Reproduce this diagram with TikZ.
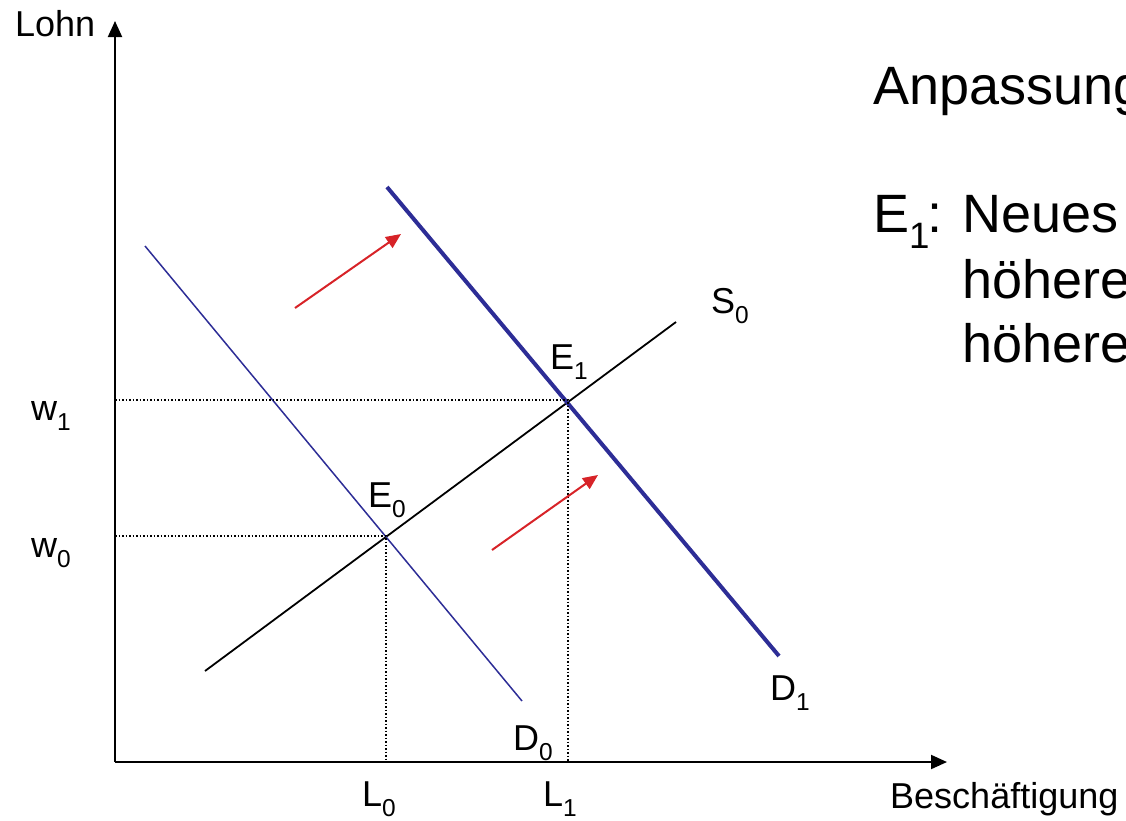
\documentclass[tikz,border=0pt]{standalone}
\usepackage{fontspec}
\setmainfont{Liberation Sans}
\usetikzlibrary{arrows.meta}
\definecolor{demandblue}{RGB}{45,45,150}
\definecolor{shiftred}{RGB}{215,35,40}
\newcommand{\lowidx}[1]{\raisebox{-0.3em}{\scalebox{0.68}{#1}}}
\begin{document}
\begin{tikzpicture}[x=1pt,y=-1pt,
  lbl/.style={font=\fontsize{36}{40}\selectfont, inner sep=0pt, anchor=base west},
  bigtxt/.style={font=\fontsize{54}{58}\selectfont, inner sep=0pt, anchor=base west},
  axis/.style={line width=2pt, -{Triangle[length=16pt,width=14pt]}},
  guide/.style={line width=1.5pt, dotted},
  shiftarrow/.style={shiftred, line width=2pt, -{Triangle[length=15pt,width=13pt]}}]
  \useasboundingbox (0,0) rectangle (1126,820);
  % Axes
  \coordinate (O) at (115,762);
  \coordinate (ytip) at (115,21);
  \coordinate (xtip) at (947,762);
  \draw[axis] (O) -- (ytip);
  \draw[axis] (O) -- (xtip);
  \node[lbl] (lohn) at (15,36) {Lohn};
  \node[lbl] (besch) at (890,808) {Beschäftigung};
  % Curves
  \coordinate (S0a) at (205,671);
  \coordinate (S0b) at (676,322);
  \coordinate (D0a) at (145,246);
  \coordinate (D0b) at (522,701);
  \coordinate (D1a) at (387,187);
  \coordinate (D1b) at (779,656);
  \coordinate (E0) at (386,536);
  \coordinate (E1) at (568,400);
  \draw[line width=1.8pt] (S0a) -- (S0b);
  \draw[demandblue, line width=1.5pt] (D0a) -- (D0b);
  \draw[demandblue, line width=4pt] (D1a) -- (D1b);
  % Dotted guides
  \draw[guide] (O |- E0) -- (E0) -- (E0 |- O);
  \draw[guide] (O |- E1) -- (E1) -- (E1 |- O);
  % Shift arrows
  \coordinate (up1a) at (295,308);
  \coordinate (up1b) at (401,234);
  \coordinate (up2a) at (492,550);
  \coordinate (up2b) at (598,475);
  \draw[shiftarrow] (up1a) -- (up1b);
  \draw[shiftarrow] (up2a) -- (up2b);
  % Labels
  \node[lbl] (w1) at (31,420) {w\lowidx{1}};
  \node[lbl] (w0) at (31,557) {w\lowidx{0}};
  \node[lbl] (e0) at (368,507) {E\lowidx{0}};
  \node[lbl] (e1) at (550,369) {E\lowidx{1}};
  \node[lbl] (s0) at (711,313) {S\lowidx{0}};
  \node[lbl] (d1) at (770,700) {D\lowidx{1}};
  \node[lbl] (d0) at (513,750) {D\lowidx{0}};
  \node[lbl] (l0) at (362,806) {L\lowidx{0}};
  \node[lbl] (l1) at (543,806) {L\lowidx{1}};
  % Text on the right
  \node[bigtxt] (title) at (873,104) {Anpassung};
  \node[bigtxt] (neues) at (873,232) {E\lowidx{1}\kern-2pt: Neues};
  \node[bigtxt] (hoeher1) at (962,298) {höhere};
  \node[bigtxt] (hoeher2) at (962,362) {höhere};
\end{tikzpicture}
\end{document}
